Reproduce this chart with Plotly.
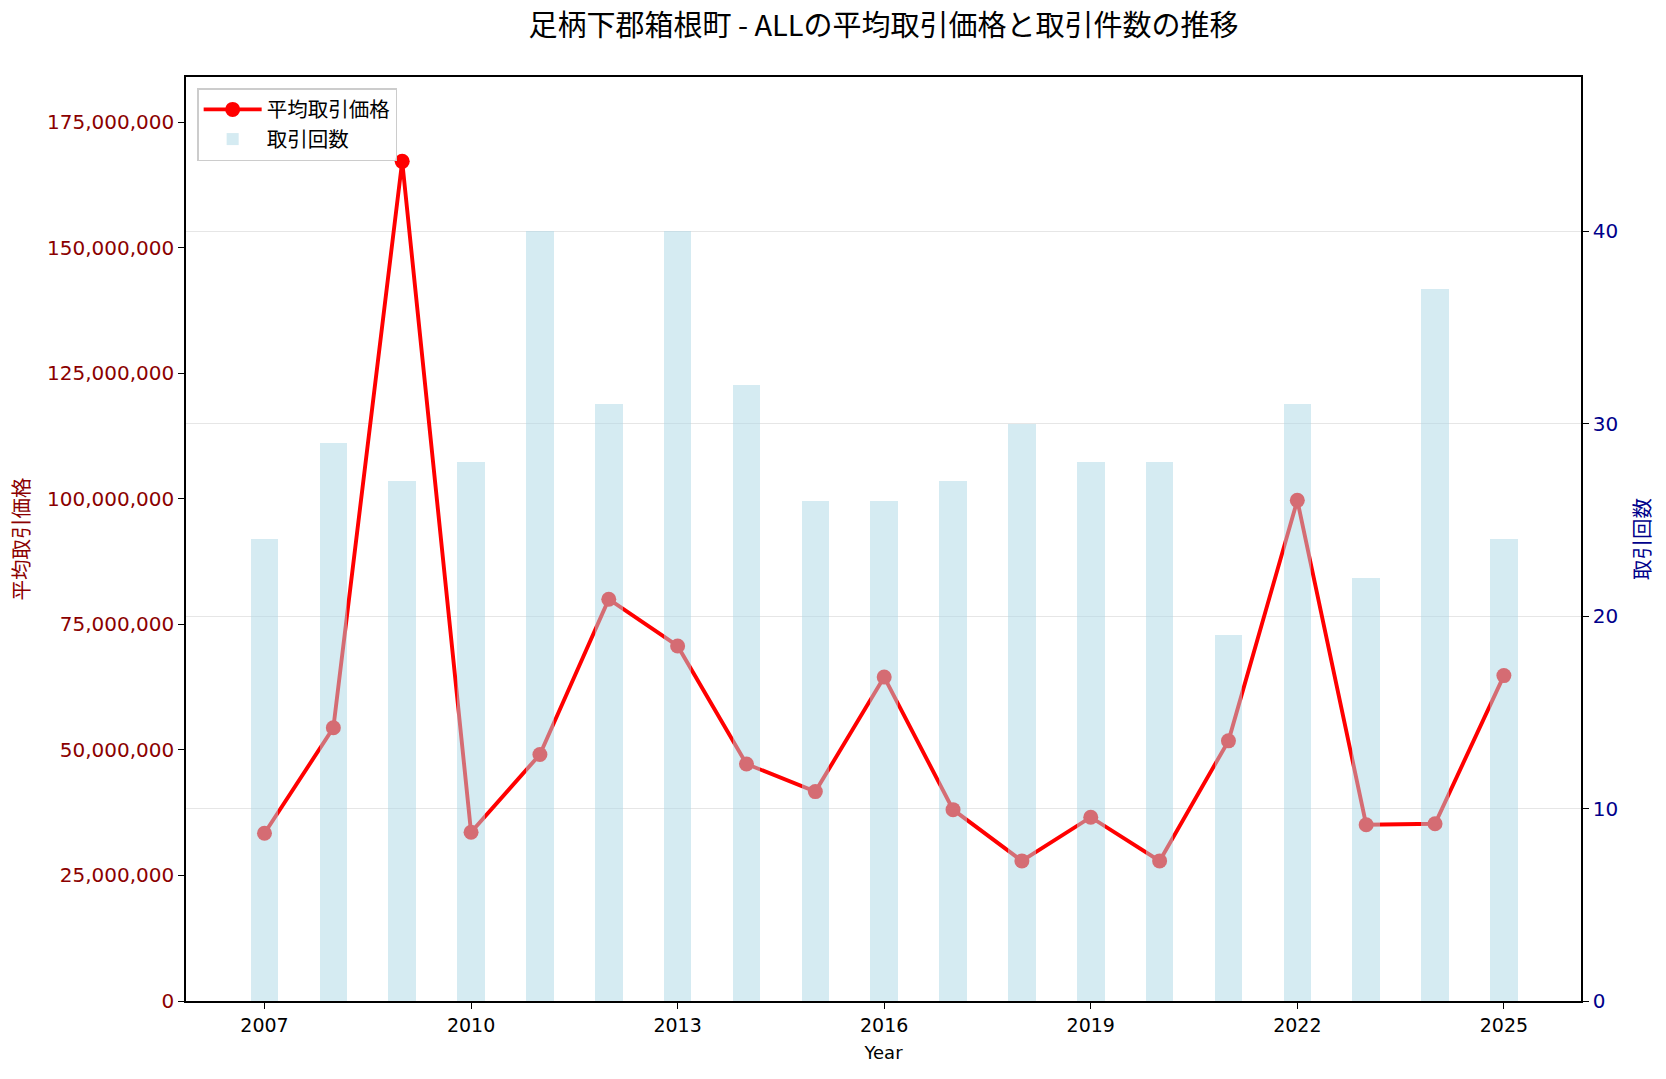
import plotly.graph_objects as go

years = [2007, 2008, 2009, 2010, 2011, 2012, 2013, 2014, 2015, 2016,
         2017, 2018, 2019, 2020, 2021, 2022, 2023, 2024, 2025]
avg_price = [33.4e6, 54.4e6, 167.2e6, 33.6e6, 49.1e6, 80.0e6, 70.7e6, 47.2e6, 41.7e6, 64.5e6,
             38.1e6, 27.9e6, 36.6e6, 27.9e6, 51.8e6, 99.7e6, 35.1e6, 35.3e6, 64.8e6]
counts = [24, 29, 27, 28, 40, 31, 40, 32, 26, 26,
          27, 30, 28, 28, 19, 31, 22, 37, 24]
xticks = [2007, 2010, 2013, 2016, 2019, 2022, 2025]

title = "足柄下郡箱根町 - ALLの平均取引価格と取引件数の推移"
FONT = "Noto Sans CJK JP"
NUMFONT = "DejaVu Sans, Noto Sans CJK JP"

fig = go.Figure()
fig.add_trace(go.Scatter(
    x=years, y=avg_price, name="平均取引価格", mode="lines+markers",
    line=dict(color="red", width=3.9), marker=dict(color="red", size=15),
    yaxis="y"))
fig.add_trace(go.Bar(
    x=years, y=counts, name="取引回数", width=0.4,
    marker=dict(color="lightblue", line=dict(width=0)), opacity=0.5,
    yaxis="y2"))

fig.update_layout(
    width=1666, height=1079,
    margin=dict(l=186, r=85, t=77, b=78),
    paper_bgcolor="white", plot_bgcolor="white",
    font=dict(family=FONT, size=20, color="black"),
    title=dict(text=title, x=0.5, xref="paper", xanchor="center",
               y=1 - 26 / 1079, yref="container", yanchor="middle",
               font=dict(size=29, color="black")),
    showlegend=True,
    legend=dict(x=0.008, y=0.988, xanchor="left", yanchor="top",
                bgcolor="rgba(255,255,255,0.8)", bordercolor="#cccccc", borderwidth=1.5,
                font=dict(size=20.5), traceorder="normal", tracegroupgap=0,
                itemwidth=58),
    bargap=0,
    xaxis=dict(range=[2005.86, 2026.12], tickvals=xticks, ticks="outside", ticklen=6,
               tickwidth=1.3, tickcolor="black", showline=True, linecolor="black",
               linewidth=1.5, mirror=True, showgrid=False, zeroline=False,
               tickfont=dict(family=NUMFONT, size=19, color="black"),
               title=dict(text="Year", font=dict(family=NUMFONT, size=18), standoff=12)),
    yaxis=dict(range=[0, 184.0e6], dtick=25e6, tick0=0, tickformat=",d", ticks="outside",
               ticklen=6, tickwidth=1.3, tickcolor="black", showline=True,
               linecolor="black", linewidth=1.5, showgrid=False, zeroline=False,
               tickfont=dict(family=NUMFONT, size=20, color="#8b0000"),
               title=dict(text="平均取引価格", font=dict(size=20.5, color="#8b0000"), standoff=12)),
    yaxis2=dict(range=[0, 48], dtick=10, tick0=0, overlaying="y", side="right",
                ticks="outside", ticklen=6, tickwidth=1.3, tickcolor="black",
                showline=True, linecolor="black", linewidth=1.5,
                showgrid=True, gridcolor="#e6e6e6", gridwidth=1.3, zeroline=False,
                tickfont=dict(family=NUMFONT, size=20, color="#00008b"),
                title=dict(text="取引回数", font=dict(size=20.5, color="#00008b"), standoff=18)),
)

fig.write_html("out.html")
